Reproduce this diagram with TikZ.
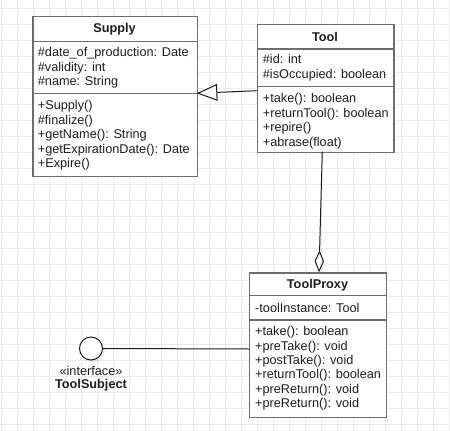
\documentclass[tikz,border=0pt]{standalone}
\usepackage{fontspec}
\setmainfont{Liberation Sans}
\usetikzlibrary{arrows.meta}
\definecolor{gridc}{HTML}{EBEBEB}
\definecolor{boxc}{HTML}{6E6E6E}
\definecolor{textc}{HTML}{1E1E1E}
\definecolor{linec}{HTML}{1A1A1A}
\begin{document}
\begin{tikzpicture}[x=1pt,y=-1pt,
  umlbox/.style={draw=boxc, line width=1.3pt, fill=white, anchor=north west, inner sep=0pt},
  sepline/.style={draw=boxc, line width=1.3pt},
  mem/.style={anchor=base west, inner sep=0pt, text=textc, font=\fontsize{12.7}{14}\selectfont},
  ttl/.style={anchor=base, inner sep=0pt, text=textc, font=\fontsize{12.7}{14}\selectfont\bfseries},
  conn/.style={draw=linec, line width=1pt},
  gridline/.style={draw=gridc, line width=0.8pt}]
\useasboundingbox (0,0) rectangle (450,431);
\fill[white] (0,0) rectangle (450,431);
\foreach \k in {0,...,28} {\draw[gridline] (1.3+16*\k,0) -- (1.3+16*\k,431);}
\foreach \k in {0,...,26} {\draw[gridline] (0,8.5+16*\k) -- (450,8.5+16*\k);}

% Supply
\node[umlbox, minimum width=164.4pt, minimum height=159.7pt] (supply) at (32.3,16) {};
\draw[sepline] ([yshift=-25.7pt]supply.north west) -- ([yshift=-25.7pt]supply.north east);
\draw[sepline] ([yshift=-77.3pt]supply.north west) -- ([yshift=-77.3pt]supply.north east);
\node[ttl] (supplyT) at (114.5,32.8) {Supply};
\node[mem] (s1) at (37.7,56.8) {\#date\_of\_production: Date};
\node[mem] (s2) at (37.7,71.2) {\#validity: int};
\node[mem] (s3) at (37.7,85.6) {\#name: String};
\node[mem] (s4) at (37.7,109.9) {+Supply()};
\node[mem] (s5) at (37.7,124.3) {\#finalize()};
\node[mem] (s6) at (37.7,138.7) {+getName(): String};
\node[mem] (s7) at (37.7,153.1) {+getExpirationDate(): Date};
\node[mem] (s8) at (37.7,167.6) {+Expire()};

% Tool
\node[umlbox, minimum width=136.6pt, minimum height=127.7pt] (tool) at (256.7,24) {};
\draw[sepline] ([yshift=-25pt]tool.north west) -- ([yshift=-25pt]tool.north east);
\draw[sepline] ([yshift=-62.7pt]tool.north west) -- ([yshift=-62.7pt]tool.north east);
\node[ttl] (toolT) at (325,41.2) {Tool};
\node[mem] (t1) at (262.7,63.8) {\#id: int};
\node[mem] (t2) at (262.7,78.5) {\#isOccupied: boolean};
\node[mem] (t3) at (262.7,102.2) {+take(): boolean};
\node[mem] (t4) at (262.7,117.0) {+returnTool(): boolean};
\node[mem] (t5) at (262.7,131.8) {+repire()};
\node[mem] (t6) at (262.7,146.6) {+abrase(float)};

% ToolProxy
\node[umlbox, minimum width=137pt, minimum height=144.4pt] (proxy) at (249,272.3) {};
\draw[sepline] ([yshift=-23.4pt]proxy.north west) -- ([yshift=-23.4pt]proxy.north east);
\draw[sepline] ([yshift=-47.7pt]proxy.north west) -- ([yshift=-47.7pt]proxy.north east);
\node[ttl] (proxyT) at (317.5,288.8) {ToolProxy};
\node[mem] (p1) at (255,312.2) {-toolInstance: Tool};
\node[mem] (p2) at (255,335.5) {+take(): boolean};
\node[mem] (p3) at (255,350.0) {+preTake(): void};
\node[mem] (p4) at (255,364.4) {+postTake(): void};
\node[mem] (p5) at (255,378.9) {+returnTool(): boolean};
\node[mem] (p6) at (255,393.3) {+preReturn(): void};
\node[mem] (p7) at (255,407.8) {+preReturn(): void};

% Interface
\fill[black, opacity=0.08] (93.2,351) circle[radius=11.5];
\node[draw=linec, line width=1pt, fill=white, circle, minimum size=23pt, inner sep=0pt] (iface) at (91,348.5) {};
\node[anchor=base, inner sep=0pt, text=textc, font=\fontsize{12.7}{14}\selectfont] (ifaceS) at (91,375) {«interface»};
\node[ttl] (ifaceN) at (91,388.5) {ToolSubject};

% connectors
\coordinate (inhA) at (256.7,90.7);
\coordinate (inhB) at (196.7,93.3);
\draw[conn, -{Triangle[open, length=20.6pt, width=16.7pt, line width=1pt]}] (inhA) -- (inhB);
\coordinate (aggA) at (322.3,151.7);
\coordinate (aggB) at (319,272.3);
\draw[conn, -{Diamond[open, length=22pt, width=9.4pt, line width=1pt]}] (aggA) -- (aggB);
\coordinate (lolB) at (249,349);
\draw[conn] (iface.east) -- (lolB);
\end{tikzpicture}
\end{document}
